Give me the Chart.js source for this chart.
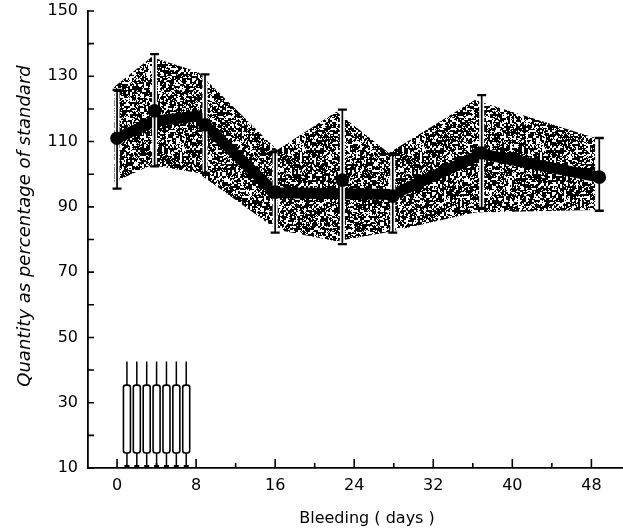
<!DOCTYPE html>
<html>
<head>
<meta charset="utf-8">
<script src="https://cdn.jsdelivr.net/npm/chart.js@4.4.0/dist/chart.umd.min.js"></script>
<style>
    html, body { margin: 0; padding: 0; background: #fff; }
    #wrap { width: 623px; height: 529px; }
</style>
</head>
<body>
<div id="wrap"><canvas id="myChart"></canvas></div>
<script>
// measured points (mean +/- spread)
var pointDays = [0, 3.8, 8.9, 16.0, 22.8, 27.9, 36.9, 48.8];
var pointValues = [111, 119.4, 115.1, 94.5, 98.2, 93.3, 106.5, 99.1];
var errHigh = [125.8, 136.8, 130.6, 107, 119.8, 106, 124.2, 111.1];
var errLow = [95.6, 102.4, 100.4, 82.1, 78.6, 82.1, 89.4, 88.8];

// thick trend line
var meanDays = [0, 3.8, 8.2, 8.9, 16.0, 27.9, 36.9, 48.8];
var meanValues = [111, 116.3, 117.8, 115.1, 94.3, 93.8, 106.2, 99.1];

// stippled range
var bandDays = [-0.3, 3.5, 8.2, 16.2, 22.2, 27.5, 36.2, 48.4];
var bandUpper = [126.7, 135.9, 131.3, 107.4, 119.1, 106.5, 122.7, 111.1];
var bandLower = [97.6, 102.8, 100.4, 83.0, 79.5, 82.3, 88.3, 89.0];

// bleedings (days 1..7)
var bleedDays = [1, 2, 3, 4, 5, 6, 7];
var bleedBox = [14.6, 35.4];
var bleedNeedle = [10, 42.6];

// axes
var xTicks = [0, 4, 8, 12, 16, 20, 24, 28, 32, 36, 40, 44, 48];
var xLabels = [0, 8, 16, 24, 32, 40, 48];
var yTicks = [10, 20, 30, 40, 50, 60, 70, 80, 90, 100, 110, 120, 130, 140, 150];
var yLabels = [10, 30, 50, 70, 90, 110, 130, 150];
var xTitle = 'Bleeding ( days )';
var yTitle = 'Quantity as percentage of standard';

function toXY(xs, ys) {
    return xs.map(function (x, i) { return { x: x, y: ys[i] }; });
}

// grainy print texture for the range
function makeStipple(ctx) {
    var w = 120, h = 114;
    var c = document.createElement('canvas');
    c.width = w;
    c.height = h;
    var g = c.getContext('2d');
    var img = g.createImageData(w, h);
    var seed = 2463534242;
    function rnd() {
        seed ^= seed << 13; seed >>>= 0;
        seed ^= seed >>> 17;
        seed ^= seed << 5; seed >>>= 0;
        return seed / 4294967296;
    }
    var cw = w / 2, ch = h / 2, coarse = [];
    for (var k = 0; k < cw * ch; k++) coarse.push(rnd());
    for (var y = 0; y < h; y++) {
        for (var x = 0; x < w; x++) {
            var dark = coarse[(y >> 1) * cw + (x >> 1)] < 0.66;
            if (rnd() < 0.12) dark = !dark;
            var v = dark ? 0 : 255;
            var i = (y * w + x) * 4;
            img.data[i] = v;
            img.data[i + 1] = v;
            img.data[i + 2] = v;
            img.data[i + 3] = 255;
        }
    }
    g.putImageData(img, 0, 0);
    return ctx.createPattern(c, 'repeat');
}

// error bars drawn right after the trend line, under the dots
var errorBars = {
    id: 'errorBars',
    afterDatasetDraw: function (chart, args) {
        if (args.index !== 1) return;
        var ctx = chart.ctx, xs = chart.scales.x, ys = chart.scales.y;
        ctx.save();
        pointDays.forEach(function (d, i) {
            var x = xs.getPixelForValue(d);
            var yTop = ys.getPixelForValue(errHigh[i]);
            var yBot = ys.getPixelForValue(errLow[i]);
            ctx.strokeStyle = '#fff';
            ctx.lineWidth = 5;
            ctx.beginPath();
            ctx.moveTo(x, yTop + 2);
            ctx.lineTo(x, yBot - 2);
            ctx.stroke();
            ctx.strokeStyle = '#000';
            ctx.lineWidth = 1.7;
            ctx.beginPath();
            ctx.moveTo(x, yTop);
            ctx.lineTo(x, yBot);
            ctx.stroke();
            ctx.lineWidth = 2.3;
            ctx.beginPath();
            ctx.moveTo(x - 4.5, yTop);
            ctx.lineTo(x + 4.5, yTop);
            ctx.moveTo(x - 4.5, yBot);
            ctx.lineTo(x + 4.5, yBot);
            ctx.stroke();
        });
        ctx.restore();
    }
};

var bleedMarks = {
    id: 'bleedMarks',
    afterDatasetsDraw: function (chart) {
        var ctx = chart.ctx, xs = chart.scales.x, ys = chart.scales.y;
        ctx.save();
        ctx.strokeStyle = '#000';
        bleedDays.forEach(function (d) {
            var x = xs.getPixelForValue(d);
            var yBase = ys.getPixelForValue(bleedNeedle[0]);
            var yTip = ys.getPixelForValue(bleedNeedle[1]);
            var yBoxTop = ys.getPixelForValue(bleedBox[1]);
            var yBoxBot = ys.getPixelForValue(bleedBox[0]);
            ctx.lineWidth = 1.5;
            ctx.beginPath();
            ctx.moveTo(x, yTip);
            ctx.lineTo(x, yBoxTop);
            ctx.moveTo(x, yBoxBot);
            ctx.lineTo(x, yBase - 1);
            ctx.stroke();
            ctx.lineWidth = 2;
            ctx.beginPath();
            ctx.moveTo(x - 2.5, yBase - 2);
            ctx.lineTo(x + 2.5, yBase - 2);
            ctx.stroke();
            ctx.lineWidth = 1.6;
            ctx.fillStyle = '#fff';
            ctx.beginPath();
            ctx.roundRect(x - 3.5, yBoxTop, 7, yBoxBot - yBoxTop, 2.5);
            ctx.fill();
            ctx.stroke();
        });
        ctx.restore();
    }
};

// tick marks point into the plot, axis titles placed as in the print
var axisDecor = {
    id: 'axisDecor',
    afterDraw: function (chart) {
        var ctx = chart.ctx, xs = chart.scales.x, ys = chart.scales.y, area = chart.chartArea;
        ctx.save();
        ctx.strokeStyle = '#000';
        ctx.lineWidth = 1.6;
        ctx.beginPath();
        yTicks.forEach(function (v) {
            var y = ys.getPixelForValue(v);
            ctx.moveTo(area.left, y);
            ctx.lineTo(area.left + 6, y);
        });
        xTicks.forEach(function (v) {
            var x = xs.getPixelForValue(v);
            var len = xLabels.indexOf(v) >= 0 ? 9 : 5;
            ctx.moveTo(x, area.bottom);
            ctx.lineTo(x, area.bottom - len);
        });
        ctx.stroke();

        ctx.fillStyle = '#000';
        ctx.textAlign = 'center';
        ctx.font = '16px "DejaVu Sans"';
        ctx.textBaseline = 'alphabetic';
        ctx.fillText(xTitle, area.left + 279, area.bottom + 55);

        ctx.translate(25, area.top + 215);
        ctx.rotate(-Math.PI / 2);
        ctx.font = 'italic 18px "DejaVu Sans"';
        ctx.textBaseline = 'middle';
        ctx.fillText(yTitle, 0, 0);
        ctx.restore();
    }
};

var ctx = document.getElementById('myChart').getContext('2d');
var stipple = makeStipple(ctx);
var tickFont = { family: 'DejaVu Sans', size: 16 };

var myChart = new Chart(ctx, {
    type: 'line',
    data: {
        datasets: [{
            label: 'points',
            data: toXY(pointDays, pointValues),
            showLine: false,
            pointRadius: 6.8,
            pointBackgroundColor: '#000',
            pointBorderWidth: 0,
            order: 0
        }, {
            label: 'trend',
            data: toXY(meanDays, meanValues),
            borderColor: '#000',
            borderWidth: 11,
            borderJoinStyle: 'miter',
            borderCapStyle: 'butt',
            pointRadius: 0,
            fill: false,
            order: 1
        }, {
            label: 'upper',
            data: toXY(bandDays, bandUpper),
            borderWidth: 0,
            borderColor: 'rgba(0,0,0,0)',
            backgroundColor: stipple,
            pointRadius: 0,
            fill: '+1',
            order: 2
        }, {
            label: 'lower',
            data: toXY(bandDays, bandLower),
            borderWidth: 0,
            borderColor: 'rgba(0,0,0,0)',
            pointRadius: 0,
            fill: false,
            order: 2
        }]
    },
    options: {
        responsive: true,
        maintainAspectRatio: false,
        animation: false,
        events: [],
        layout: { autoPadding: false, padding: { top: 11, right: 0, left: 0, bottom: 0 } },
        plugins: {
            legend: { display: false },
            tooltip: { enabled: false }
        },
        scales: {
            x: {
                type: 'linear',
                min: -2.94,
                max: 51.2,
                afterBuildTicks: function (s) { s.ticks = xTicks.map(function (v) { return { value: v }; }); },
                afterFit: function (s) { s.height = 61; s.paddingLeft = 0; s.paddingRight = 0; },
                grid: { display: false, drawTicks: false },
                border: { display: true, color: '#000', width: 1.8 },
                ticks: {
                    autoSkip: false,
                    maxRotation: 0,
                    padding: 8,
                    color: '#000',
                    font: tickFont,
                    callback: function (v) { return xLabels.indexOf(v) >= 0 ? String(v) : ''; }
                }
            },
            y: {
                min: 10,
                max: 150,
                afterBuildTicks: function (s) { s.ticks = yTicks.map(function (v) { return { value: v }; }); },
                afterFit: function (s) { s.width = 88; s.paddingTop = 0; s.paddingBottom = 0; },
                grid: { display: false, drawTicks: false },
                border: { display: true, color: '#000', width: 1.8 },
                ticks: {
                    autoSkip: false,
                    padding: 10,
                    color: '#000',
                    font: tickFont,
                    callback: function (v) { return yLabels.indexOf(v) >= 0 ? String(v) : ''; }
                }
            }
        }
    },
    plugins: [errorBars, bleedMarks, axisDecor]
});
</script>
</body>
</html>
